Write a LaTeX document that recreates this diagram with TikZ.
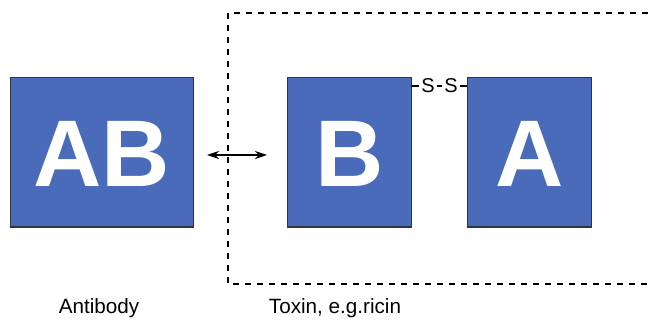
\documentclass[tikz,border=0pt]{standalone}
\usepackage{fontspec}
\setmainfont{Liberation Sans}
\usetikzlibrary{arrows.meta}
\definecolor{boxblue}{HTML}{4A6BB9}
\definecolor{boxedge}{HTML}{2E3440}
\tikzset{
  chainbox/.style={draw=boxedge, line width=0.9pt, fill=boxblue, inner sep=0pt},
  bigletter/.style={text=white, font=\fontsize{71}{71}\selectfont\bfseries},
  caption/.style={font=\fontsize{15.5}{18}\selectfont, text=black},
  bond/.style={line width=0.8pt},
  region/.style={dashed, dash pattern=on 4.5pt off 4.5pt, line width=0.8pt},
}
\begin{document}
\begin{tikzpicture}[x=0.75pt,y=-0.75pt]
\useasboundingbox (0,0) rectangle (651,320);
% dashed region
\coordinate (tr) at (660,13);
\coordinate (tl) at (228,13);
\coordinate (bl) at (228,284);
\coordinate (br) at (660,284);
\draw[region] (tr) -- (tl) -- (bl) -- (br);
% boxes
\node[chainbox, minimum width=137pt, minimum height=112pt, anchor=north west] (AB) at (10,77) {};
\node[bigletter] at ([yshift=-1.5pt]AB.center) {AB};
\node[chainbox, minimum width=93pt, minimum height=112pt, anchor=north west] (B) at (287,77) {};
\node[bigletter] at ([yshift=-1.5pt]B.center) {B};
\node[chainbox, minimum width=93pt, minimum height=112pt, anchor=north west] (A) at (467,77) {};
\node[bigletter] at ([yshift=-1.5pt]A.center) {A};
% disulfide bond
\node[font=\fontsize{15}{15}\selectfont, inner sep=0pt] (s1) at (428,86) {S};
\node[font=\fontsize{15}{15}\selectfont, inner sep=0pt] (s2) at (451,86) {S};
\coordinate (bR) at (411,86);
\coordinate (aL) at (467,86);
\draw[bond] (bR) -- ([xshift=-1.5pt]s1.west);
\draw[bond] ([xshift=1.5pt]s1.east) -- ([xshift=-1.5pt]s2.west);
\draw[bond] ([xshift=1.5pt]s2.east) -- (aL);
% interaction arrow
\coordinate (arL) at (207,155);
\coordinate (arR) at (267,155);
\draw[line width=0.8pt, {Stealth[length=9pt,width=6pt]}-{Stealth[length=9pt,width=6pt]}] (arL) -- (arR);
% captions
\node[caption] (cap1) at (99,308) {Antibody};
\node[caption] (cap2) at (335,308) {Toxin, e.g.ricin};
\end{tikzpicture}
\end{document}
